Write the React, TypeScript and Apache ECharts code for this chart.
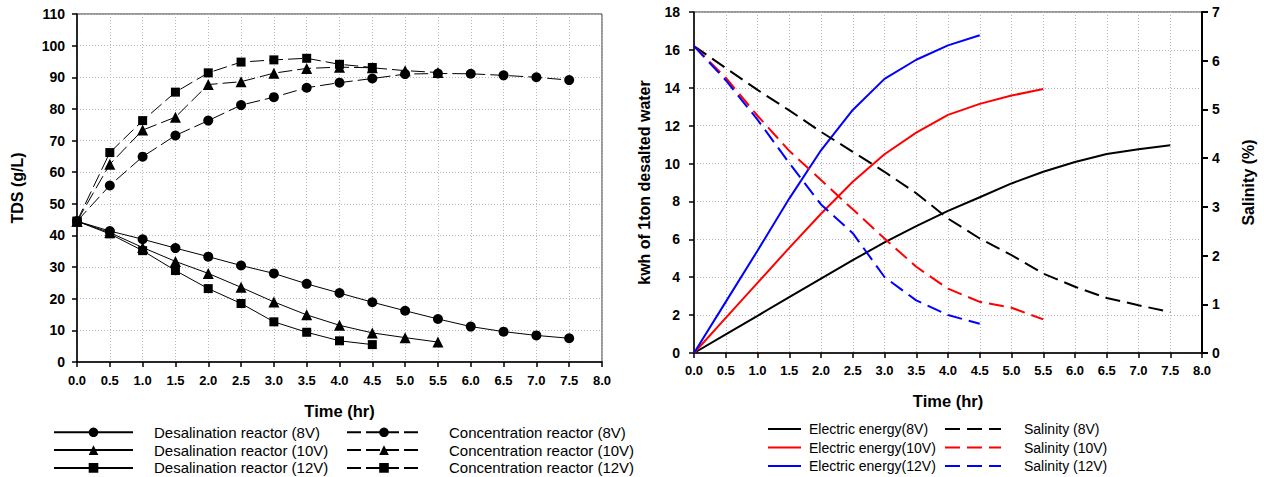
import React, { useEffect, useRef } from 'react';
import * as echarts from 'echarts';

const TIME = [0, 0.5, 1, 1.5, 2, 2.5, 3, 3.5, 4, 4.5, 5, 5.5, 6, 6.5, 7, 7.5];

// Left chart: TDS (g/L)
const desal8 = [44.5, 41.4, 38.8, 36.0, 33.3, 30.5, 28.0, 24.7, 21.8, 18.9, 16.2, 13.6, 11.2, 9.6, 8.4, 7.5];
const desal10 = [44.5, 40.9, 36.2, 31.8, 28.0, 23.6, 19.0, 14.9, 11.6, 9.2, 7.7, 6.3];
const desal12 = [44.5, 40.5, 35.2, 28.9, 23.2, 18.5, 12.7, 9.4, 6.7, 5.5];
const conc8 = [44.5, 55.8, 64.9, 71.6, 76.3, 81.2, 83.7, 86.7, 88.3, 89.6, 91.0, 91.2, 91.1, 90.6, 90.0, 89.1];
const conc10 = [44.5, 62.5, 73.3, 77.4, 87.7, 88.6, 91.3, 92.8, 93.2, 93.0, 92.1, 91.5];
const conc12 = [44.5, 66.2, 76.3, 85.3, 91.4, 94.8, 95.5, 96.0, 94.1, 93.1];

// Right chart: electric energy (kwh) and salinity (%)
const energy8 = [0, 0.98, 1.96, 2.95, 3.93, 4.9, 5.84, 6.7, 7.5, 8.22, 8.95, 9.57, 10.08, 10.5, 10.76, 10.97];
const energy10 = [0, 1.85, 3.7, 5.55, 7.35, 9.04, 10.49, 11.63, 12.57, 13.15, 13.59, 13.94];
const energy12 = [0, 2.7, 5.4, 8.15, 10.7, 12.83, 14.47, 15.48, 16.24, 16.77];
const sal8 = [6.3, 5.85, 5.4, 4.98, 4.54, 4.13, 3.72, 3.28, 2.76, 2.35, 2.01, 1.63, 1.36, 1.13, 0.98, 0.84];
const sal10 = [6.3, 5.65, 4.87, 4.15, 3.55, 2.95, 2.35, 1.77, 1.32, 1.05, 0.93, 0.69];
const sal12 = [6.3, 5.6, 4.79, 3.9, 3.05, 2.46, 1.56, 1.08, 0.78, 0.6];

const LEFT_NAMES = [
  'Desalination reactor (8V)',
  'Desalination reactor (10V)',
  'Desalination reactor (12V)',
  'Concentration reactor (8V)',
  'Concentration reactor (10V)',
  'Concentration reactor (12V)',
];
const RIGHT_NAMES = [
  'Electric energy(8V)',
  'Electric energy(10V)',
  'Electric energy(12V)',
  'Salinity (8V)',
  'Salinity (10V)',
  'Salinity (12V)',
];

const FONT = 'Arial, "Liberation Sans", Helvetica, sans-serif';

export default function App() {
  const ref = useRef<HTMLDivElement>(null);
  useEffect(() => {
    const chart = echarts.init(ref.current!, null, { renderer: 'svg' });
    const pairs = (vals: number[]) => vals.map((v, i) => [TIME[i], v]);
    const grid = { color: '#b8b8b8', type: [1, 2], width: 1 };
    const xAxisBase = (gridIndex: number, margin: number, nameGap: number, nameSize: number) => ({
      type: 'value',
      gridIndex,
      min: 0,
      max: 8,
      interval: 0.5,
      name: 'Time (hr)',
      nameLocation: 'middle',
      nameGap,
      nameTextStyle: { fontFamily: FONT, fontWeight: 'bold', fontSize: nameSize, color: '#000' },
      axisLine: { show: true, onZero: false, lineStyle: { color: '#000', width: 1.5 } },
      axisTick: { show: true, inside: false, length: 5, lineStyle: { color: '#000', width: 1.5 } },
      axisLabel: {
        margin,
        fontFamily: FONT,
        fontWeight: 'bold',
        fontSize: 13,
        color: '#000',
        formatter: (v: number) => v.toFixed(1),
      },
      splitLine: { show: true, lineStyle: grid },
    });
    const leftSeries = [
      { name: LEFT_NAMES[0], data: pairs(desal8), symbol: 'circle', symbolSize: 10, type: 'solid' },
      { name: LEFT_NAMES[1], data: pairs(desal10), symbol: 'triangle', symbolSize: 11, type: 'solid' },
      { name: LEFT_NAMES[2], data: pairs(desal12), symbol: 'rect', symbolSize: 9, type: 'solid' },
      { name: LEFT_NAMES[3], data: pairs(conc8), symbol: 'circle', symbolSize: 10, type: [14, 5] },
      { name: LEFT_NAMES[4], data: pairs(conc10), symbol: 'triangle', symbolSize: 11, type: [14, 5] },
      { name: LEFT_NAMES[5], data: pairs(conc12), symbol: 'rect', symbolSize: 9, type: [14, 5] },
    ].map((s) => ({
      type: 'line',
      name: s.name,
      xAxisIndex: 0,
      yAxisIndex: 0,
      data: s.data,
      symbol: s.symbol,
      symbolSize: s.symbolSize,
      showSymbol: true,
      itemStyle: { color: '#000', borderWidth: 0 },
      lineStyle: { color: '#000', width: 1, type: s.type },
    }));
    const rightSeries = [
      { name: RIGHT_NAMES[0], data: pairs(energy8), color: '#000000', y: 1, type: 'solid' },
      { name: RIGHT_NAMES[1], data: pairs(energy10), color: '#ff0000', y: 1, type: 'solid' },
      { name: RIGHT_NAMES[2], data: pairs(energy12), color: '#0000ff', y: 1, type: 'solid' },
      { name: RIGHT_NAMES[3], data: pairs(sal8), color: '#000000', y: 2, type: [15, 7] },
      { name: RIGHT_NAMES[4], data: pairs(sal10), color: '#ff0000', y: 2, type: [15, 7] },
      { name: RIGHT_NAMES[5], data: pairs(sal12), color: '#0000ff', y: 2, type: [15, 7] },
    ].map((s) => ({
      type: 'line',
      name: s.name,
      xAxisIndex: 1,
      yAxisIndex: s.y,
      data: s.data,
      symbol: 'none',
      itemStyle: { color: s.color },
      lineStyle: { color: s.color, width: 2, type: s.type },
    }));
    const legendText = (size: number, pad: number, lh: number) => ({
      fontFamily: FONT,
      fontSize: size,
      color: '#000',
      lineHeight: lh,
      padding: [0, 0, 0, pad],
    });
    chart.setOption({
      animation: false,
      backgroundColor: '#fff',
      grid: [
        { left: 77, top: 14, width: 525, height: 348, show: true, borderColor: '#333', borderWidth: 1 },
        { left: 694, top: 12, width: 508, height: 341, show: true, borderColor: '#333', borderWidth: 1 },
      ],
      xAxis: [xAxisBase(0, 12, 40, 16.5), xAxisBase(1, 11, 39, 16.5)],
      yAxis: [
        {
          type: 'value',
          gridIndex: 0,
          min: 0,
          max: 110,
          interval: 10,
          name: 'TDS (g/L)',
          nameLocation: 'middle',
          nameGap: 52,
          nameTextStyle: { fontFamily: FONT, fontWeight: 'bold', fontSize: 16, color: '#000' },
          axisLine: { show: true, onZero: false, lineStyle: { color: '#000', width: 1.5 } },
          axisTick: { show: true, inside: false, length: 5, lineStyle: { color: '#000', width: 1.5 } },
          axisLabel: { margin: 12, fontFamily: FONT, fontWeight: 'bold', fontSize: 14, color: '#000' },
          splitLine: { show: true, lineStyle: grid },
        },
        {
          type: 'value',
          gridIndex: 1,
          min: 0,
          max: 18,
          interval: 2,
          name: 'kwh of 1ton desalted water',
          nameLocation: 'middle',
          nameGap: 42,
          nameTextStyle: { fontFamily: FONT, fontWeight: 'bold', fontSize: 16, color: '#000' },
          axisLine: { show: true, onZero: false, lineStyle: { color: '#000', width: 1.5 } },
          axisTick: { show: true, inside: false, length: 5, lineStyle: { color: '#000', width: 1.5 } },
          axisLabel: { margin: 14, fontFamily: FONT, fontWeight: 'bold', fontSize: 14, color: '#000' },
          splitLine: { show: true, lineStyle: grid },
        },
        {
          type: 'value',
          gridIndex: 1,
          position: 'right',
          min: 0,
          max: 7,
          interval: 1,
          name: 'Salinity (%)',
          nameLocation: 'middle',
          nameGap: 38,
          nameTextStyle: { fontFamily: FONT, fontWeight: 'bold', fontSize: 16, color: '#000' },
          axisLine: { show: true, onZero: false, lineStyle: { color: '#000', width: 2 } },
          axisTick: { show: true, inside: false, length: 6, lineStyle: { color: '#000', width: 2 } },
          axisLabel: { margin: 10, fontFamily: FONT, fontWeight: 'bold', fontSize: 14, color: '#000' },
          splitLine: { show: false },
        },
      ],
      legend: [
        {
          orient: 'vertical', left: 53, top: 424.8, height: 120, padding: 0, itemGap: 2.8,
          itemWidth: 79, itemHeight: 12, selectedMode: false,
          data: LEFT_NAMES.slice(0, 3), textStyle: legendText(15, 16, 12),
        },
        {
          orient: 'vertical', left: 346, top: 424.8, height: 120, padding: 0, itemGap: 2.8,
          itemWidth: 74, itemHeight: 12, selectedMode: false,
          data: LEFT_NAMES.slice(3), textStyle: legendText(15, 23, 12),
        },
        {
          orient: 'vertical', left: 767, top: 422, height: 120, padding: 0, itemGap: 4.5,
          itemWidth: 33, itemHeight: 10, selectedMode: false, itemStyle: { opacity: 0 },
          data: RIGHT_NAMES.slice(0, 3), textStyle: legendText(14, 3, 14),
        },
        {
          orient: 'vertical', left: 944, top: 422, height: 120, padding: 0, itemGap: 4.5,
          itemWidth: 56, itemHeight: 10, selectedMode: false, itemStyle: { opacity: 0 },
          data: RIGHT_NAMES.slice(3), textStyle: legendText(14, 18, 14),
        },
      ],
      series: [...leftSeries, ...rightSeries],
    });
    return () => chart.dispose();
  }, []);
  return (
    <div
      ref={ref}
      style={{ position: 'fixed', left: 0, top: 0, width: 1264, height: 477, background: '#fff' }}
    />
  );
}
